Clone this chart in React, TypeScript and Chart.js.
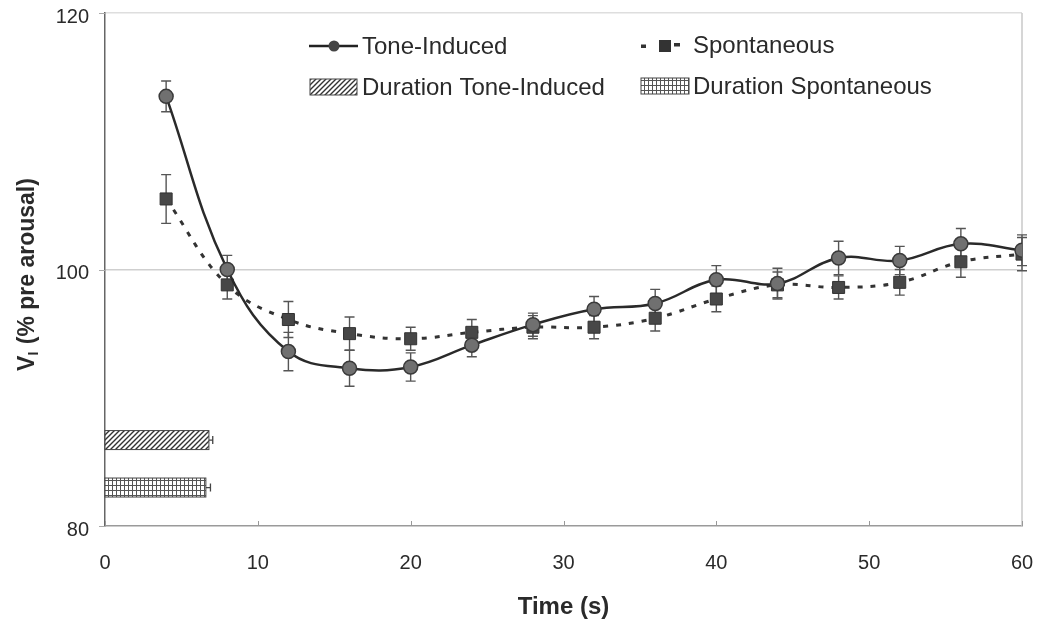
import React, { useEffect, useRef } from "react";
import { Chart, registerables } from "chart.js";

Chart.register(...registerables);

const timeS = [4, 8, 12, 16, 20, 24, 28, 32, 36, 40, 44, 48, 52, 56, 60];
const toneInduced = [113.5, 100.0, 93.6, 92.3, 92.4, 94.1, 95.7, 96.9, 97.35, 99.2, 98.9, 100.9, 100.7, 102.0, 101.5];
const toneErr = [1.2, 1.1, 1.5, 1.4, 1.1, 0.9, 0.9, 1.0, 1.1, 1.1, 1.2, 1.3, 1.1, 1.2, 1.2];
const spontaneous = [105.5, 98.8, 96.1, 95.0, 94.6, 95.1, 95.5, 95.5, 96.2, 97.7, 98.8, 98.6, 99.0, 100.6, 101.2];
const spontErr = [1.9, 1.1, 1.4, 1.3, 0.9, 1.0, 0.9, 0.9, 1.0, 1.0, 1.0, 0.9, 1.0, 1.2, 1.3];
const durationLabels = ["Duration Tone-Induced", "Duration Spontaneous"];
const durationMean = [6.8, 6.6];
const durationErr = [0.25, 0.3];
const seriesLabels = ["Tone-Induced", "Spontaneous"];
const xTickValues = [0, 10, 20, 30, 40, 50, 60];
const yTickValues = [80, 100, 120];

const FONT = "'Liberation Sans', Arial, sans-serif";
const TEXT = "#2a2a2a";

function makeHatch(ctx: CanvasRenderingContext2D) {
  const c = document.createElement("canvas");
  c.width = 5;
  c.height = 5;
  const g = c.getContext("2d")!;
  g.fillStyle = "#ffffff";
  g.fillRect(0, 0, 5, 5);
  g.strokeStyle = "#333";
  g.lineWidth = 1.4;
  g.beginPath();
  g.moveTo(-1, 6);
  g.lineTo(6, -1);
  g.moveTo(-3.5, 3.5);
  g.lineTo(3.5, -3.5);
  g.moveTo(1.5, 8.5);
  g.lineTo(8.5, 1.5);
  g.stroke();
  return ctx.createPattern(c, "repeat")!;
}

function makeGrid(ctx: CanvasRenderingContext2D) {
  const c = document.createElement("canvas");
  c.width = 4;
  c.height = 5;
  const g = c.getContext("2d")!;
  g.fillStyle = "#ffffff";
  g.fillRect(0, 0, 4, 5);
  g.fillStyle = "#555";
  g.fillRect(0, 0, 1, 5);
  g.fillRect(0, 0, 4, 1);
  return ctx.createPattern(c, "repeat")!;
}

const durationRowY = [86.7, 83.0];

const customPlugin = {
  id: "custom",
  beforeDatasetsDraw(chart: any) {
    const ctx: CanvasRenderingContext2D = chart.ctx;
    const xs = chart.scales.x;
    const ys = chart.scales.y;
    const area = chart.chartArea;
    ctx.save();
    // right border
    ctx.strokeStyle = "#c8c8c8";
    ctx.lineWidth = 1.5;
    ctx.beginPath();
    ctx.moveTo(area.right, area.top);
    ctx.lineTo(area.right, area.bottom);
    ctx.stroke();
    // x ticks inside
    ctx.strokeStyle = "#999";
    ctx.lineWidth = 1;
    xTickValues.forEach((v) => {
      const px = Math.round(xs.getPixelForValue(v)) + 0.5;
      ctx.beginPath();
      ctx.moveTo(px, area.bottom);
      ctx.lineTo(px, area.bottom - 5);
      ctx.stroke();
    });
    // y ticks outside
    ctx.strokeStyle = "#aaa";
    yTickValues.forEach((v) => {
      const py = Math.round(ys.getPixelForValue(v)) + 0.5;
      ctx.beginPath();
      ctx.moveTo(area.left - 6, py);
      ctx.lineTo(area.left, py);
      ctx.stroke();
    });
    // tick labels
    ctx.fillStyle = TEXT;
    ctx.font = `20px ${FONT}`;
    ctx.textAlign = "center";
    ctx.textBaseline = "middle";
    xTickValues.forEach((v) => {
      ctx.fillText(String(v), xs.getPixelForValue(v), area.bottom + 37);
    });
    ctx.textAlign = "right";
    yTickValues.forEach((v) => {
      ctx.fillText(String(v), area.left - 16, ys.getPixelForValue(v) + 4);
    });
    // duration bars
    const pats = [makeHatch(ctx), makeGrid(ctx)];
    durationMean.forEach((m, i) => {
      const x0 = xs.getPixelForValue(0);
      const x1 = xs.getPixelForValue(m);
      const yc = ys.getPixelForValue(durationRowY[i]);
      const h = 19;
      ctx.fillStyle = pats[i];
      ctx.fillRect(x0, yc - h / 2, x1 - x0, h);
      ctx.strokeStyle = "#444";
      ctx.lineWidth = 1;
      ctx.strokeRect(x0, yc - h / 2, x1 - x0, h);
      const xe = xs.getPixelForValue(m + durationErr[i]);
      ctx.strokeStyle = "#444";
      ctx.lineWidth = 1.3;
      ctx.beginPath();
      ctx.moveTo(x1, yc);
      ctx.lineTo(xe, yc);
      ctx.moveTo(xe, yc - 4);
      ctx.lineTo(xe, yc + 4);
      ctx.stroke();
    });
    // error bars
    const drawErr = (vals: number[], errs: number[]) => {
      ctx.strokeStyle = "#555";
      ctx.lineWidth = 1.4;
      vals.forEach((v, i) => {
        const px = xs.getPixelForValue(timeS[i]);
        const top = ys.getPixelForValue(v + errs[i]);
        const bot = ys.getPixelForValue(v - errs[i]);
        ctx.beginPath();
        ctx.moveTo(px, top);
        ctx.lineTo(px, bot);
        ctx.moveTo(px - 5, top);
        ctx.lineTo(px + 5, top);
        ctx.moveTo(px - 5, bot);
        ctx.lineTo(px + 5, bot);
        ctx.stroke();
      });
    };
    drawErr(toneInduced, toneErr);
    drawErr(spontaneous, spontErr);
    ctx.restore();
  },
  afterDraw(chart: any) {
    const ctx: CanvasRenderingContext2D = chart.ctx;
    const area = chart.chartArea;
    ctx.save();
    // legend
    ctx.font = `24px ${FONT}`;
    ctx.fillStyle = TEXT;
    ctx.textBaseline = "middle";
    ctx.textAlign = "left";
    const r1 = 46;
    const r2 = 87;
    // Tone-Induced sample
    ctx.strokeStyle = "#222";
    ctx.lineWidth = 2.5;
    ctx.beginPath();
    ctx.moveTo(309, r1);
    ctx.lineTo(358, r1);
    ctx.stroke();
    ctx.fillStyle = "#444";
    ctx.beginPath();
    ctx.arc(334, r1, 5.5, 0, Math.PI * 2);
    ctx.fill();
    ctx.fillStyle = TEXT;
    ctx.fillText(seriesLabels[0], 362, r1 + 1);
    // Spontaneous sample
    ctx.fillStyle = "#333";
    ctx.fillRect(641, r1 - 1.5, 5, 3.5);
    ctx.fillRect(659, r1 - 6, 12, 12);
    ctx.fillRect(674, r1 - 3, 6, 3.5);
    ctx.fillStyle = TEXT;
    ctx.fillText(seriesLabels[1], 693, r1);
    // Duration samples
    const pats = [makeHatch(ctx), makeGrid(ctx)];
    ctx.fillStyle = pats[0];
    ctx.fillRect(310, r2 - 8, 47, 16);
    ctx.strokeStyle = "#444";
    ctx.lineWidth = 1;
    ctx.strokeRect(310, r2 - 8, 47, 16);
    ctx.fillStyle = pats[1];
    ctx.fillRect(641, r2 - 9, 48, 16);
    ctx.strokeRect(641, r2 - 9, 48, 16);
    ctx.fillStyle = TEXT;
    ctx.fillText(durationLabels[0], 362, r2 + 1);
    ctx.fillText(durationLabels[1], 693, r2);

    // x title
    ctx.font = `bold 24px ${FONT}`;
    ctx.textAlign = "center";
    ctx.fillText("Time (s)", (area.left + area.right) / 2, 607);

    // y title with subscript
    ctx.translate(26, (area.top + area.bottom) / 2 + 5);
    ctx.rotate(-Math.PI / 2);
    const mainFont = `bold 23px ${FONT}`;
    const subFont = `bold 14px ${FONT}`;
    ctx.font = mainFont;
    const wV = ctx.measureText("V").width;
    const rest = " (% pre arousal)";
    const wR = ctx.measureText(rest).width;
    ctx.font = subFont;
    const wI = ctx.measureText("I").width + 1;
    const total = wV + wI + wR;
    let x = -total / 2;
    ctx.textAlign = "left";
    ctx.textBaseline = "alphabetic";
    ctx.font = mainFont;
    ctx.fillText("V", x, 8);
    x += wV;
    ctx.font = subFont;
    ctx.fillText("I", x, 12);
    x += wI;
    ctx.font = mainFont;
    ctx.fillText(rest, x, 8);
    ctx.restore();
  },
};

export default function App() {
  const ref = useRef<HTMLCanvasElement | null>(null);
  useEffect(() => {
    if (!ref.current) return;
    const chart = new Chart(ref.current, {
      type: "line",
      data: {
        datasets: [
          {
            label: seriesLabels[0],
            data: timeS.map((t, i) => ({ x: t, y: toneInduced[i] })),
            borderColor: "#2a2a2a",
            borderWidth: 2.5,
            tension: 0.4,
            pointStyle: "circle",
            pointRadius: 7,
            pointBackgroundColor: "#707070",
            pointBorderColor: "#3a3a3a",
            pointBorderWidth: 1.5,
            fill: false,
          },
          {
            label: seriesLabels[1],
            data: timeS.map((t, i) => ({ x: t, y: spontaneous[i] })),
            borderColor: "#333",
            borderWidth: 3,
            borderDash: [5, 8],
            tension: 0.4,
            pointStyle: "rect",
            pointRadius: 8.5,
            pointBackgroundColor: "#474747",
            pointBorderColor: "#333",
            pointBorderWidth: 1,
            fill: false,
          },
        ],
      },
      options: {
        responsive: false,
        animation: false,
        layout: { padding: { top: 13, right: 17, left: 0, bottom: 0 } },
        plugins: {
          legend: { display: false },
          tooltip: { enabled: false },
        },
        scales: {
          x: {
            type: "linear",
            min: 0,
            max: 60,
            afterBuildTicks: (s: any) => {
              s.ticks = xTickValues.map((v) => ({ value: v }));
            },
            ticks: { display: false },
            grid: { display: false, drawTicks: false },
            border: { display: true, color: "#9a9a9a", width: 1.5 },
            afterFit: (s: any) => {
              s.height = 99;
            },
          },
          y: {
            min: 80,
            max: 120,
            afterBuildTicks: (s: any) => {
              s.ticks = yTickValues.map((v) => ({ value: v }));
            },
            ticks: { display: false },
            grid: {
              color: (c: any) => (c.tick && c.tick.value === 100 ? "#cfcfcf" : c.tick && c.tick.value === 120 ? "#dedede" : "transparent"),
              lineWidth: 1.5,
              drawTicks: false,
            },
            border: { display: true, color: "#666", width: 1.5 },
            afterFit: (s: any) => {
              s.width = 105;
            },
          },
        },
      },
      plugins: [customPlugin],
    });
    return () => chart.destroy();
  }, []);
  return (
    <div style={{ position: "absolute", left: 0, top: 0, width: 1039, height: 625, background: "#fff" }}>
      <canvas ref={ref} width={1039} height={625} style={{ width: 1039, height: 625, display: "block" }} />
    </div>
  );
}
